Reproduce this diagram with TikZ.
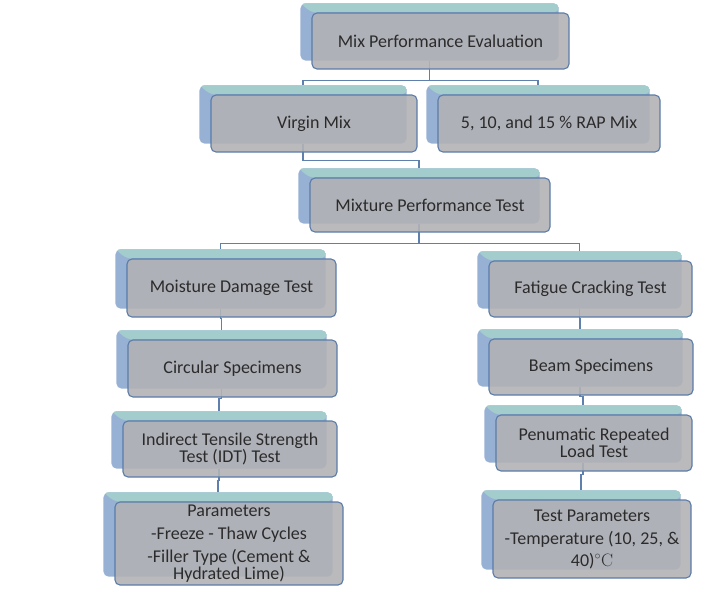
\documentclass[tikz,border=0pt]{standalone}
\usepackage{fontspec}
\newfontfamily\cardfont{Carlito}
\usepackage{tikz}
\usetikzlibrary{backgrounds,fit}
\usepackage{xcolor}
\definecolor{cardgray}{HTML}{B2B2B6}
\definecolor{cardline}{HTML}{5B7CA8}
\definecolor{tabblue}{HTML}{96B1D4}
\definecolor{tabteal}{HTML}{A3CCCD}
\definecolor{cardtext}{HTML}{2B2B2B}
\definecolor{linkblue}{HTML}{5F80AC}

\begin{document}
\begin{tikzpicture}[
  x=1pt, y=-1pt,
  card/.style={draw=cardline, line width=1.1pt, fill=cardgray,
               fill opacity=0.9, text opacity=1, rounded corners=5pt,
               inner sep=2pt, align=center, text=cardtext,
               font=\cardfont\fontsize{18}{17}\selectfont},
  tab/.style={fill=tabblue, rounded corners=5pt, inner sep=0pt},
  link/.style={draw=linkblue, line width=1.1pt},
]
  \useasboundingbox (0,0) rectangle (726,590);

  % front cards
  \node[card, minimum width=257pt, minimum height=56pt] (mpe)   at (440.5,41)  {Mix Performance Evaluation};
  \node[card, minimum width=206pt, minimum height=57pt] (virgin) at (314,123.5) {Virgin Mix};
  \node[card, minimum width=222pt, minimum height=57pt] (rap)   at (549,123.5) {5, 10, and 15 \% RAP Mix};
  \node[card, minimum width=240pt, minimum height=54pt] (mpt)   at (430,205)   {Mixture Performance Test};

  \node[card, minimum width=209pt, minimum height=58pt] (moist) at (231.5,288) {Moisture Damage Test};
  \node[card, minimum width=209pt, minimum height=57pt] (circ)  at (232.5,368.5) {Circular Specimens};
  \node[card, minimum width=214pt, minimum height=56pt] (idt)   at (230,449)   {Indirect Tensile Strength\\Test (IDT) Test};
  \node[card, minimum width=228pt, minimum height=83pt] (param) at (229,543.5) {Parameters\\[6pt]-Freeze - Thaw Cycles\\[6pt]-Filler Type (Cement \&\\Hydrated Lime)};

  \node[card, minimum width=203pt, minimum height=56pt] (fat)   at (590.5,289) {Fatigue Cracking Test};
  \node[card, minimum width=204pt, minimum height=56pt] (beam)  at (591,367)   {Beam Specimens};
  \node[card, minimum width=196pt, minimum height=56pt] (pnu)   at (594,443)   {Penumatic Repeated\\Load Test};
  \node[card, minimum width=198pt, minimum height=78pt] (tp)    at (592,539)   {Test Parameters\\[6pt]-Temperature (10, 25, \&\\[5pt]40)$^{\circ}$\textrm{C}};

  \begin{scope}[on background layer]
    % raised tabs behind each card
    \foreach \n in {mpe,virgin,rap,mpt,moist,circ,idt,param,fat,beam,pnu,tp} {
      \node[tab, fit=(\n), xshift=-11pt, yshift=9pt] (\n-tab) {};
      \fill[tabteal, rounded corners=5pt] (\n-tab.north west) -- (\n-tab.north east)
        -- (\n-tab.north east |- \n.north) -- (\n.north west) -- cycle;
    }

    % connectors
    \draw[link] (mpe-tab.south) -- ++(0,20) -| (virgin-tab.north);
    \draw[link] (mpe-tab.south) -- ++(0,20) -| (rap-tab.north);
    \draw[link] (virgin-tab.south) -- ++(0,17) -| (mpt-tab.north);
    \draw[link] (mpt-tab.south) -- ++(0,20) -| (moist-tab.north);
    \draw[link] (mpt-tab.south) -- ++(0,20) -| (fat-tab.north);
    \draw[link] (moist-tab.south) -- ++(0,10) -| (circ-tab.north);
    \draw[link] (circ-tab.south) -- ++(0,10) -| (idt-tab.north);
    \draw[link] (idt-tab.south) -- ++(0,12) -| (param-tab.north);
    \draw[link] (fat-tab.south) -- ++(0,10) -| (beam-tab.north);
    \draw[link] (beam-tab.south) -- ++(0,10) -| (pnu-tab.north);
    \draw[link] (pnu-tab.south) -- ++(0,12) -| (tp-tab.north);
  \end{scope}
\end{tikzpicture}
\end{document}
